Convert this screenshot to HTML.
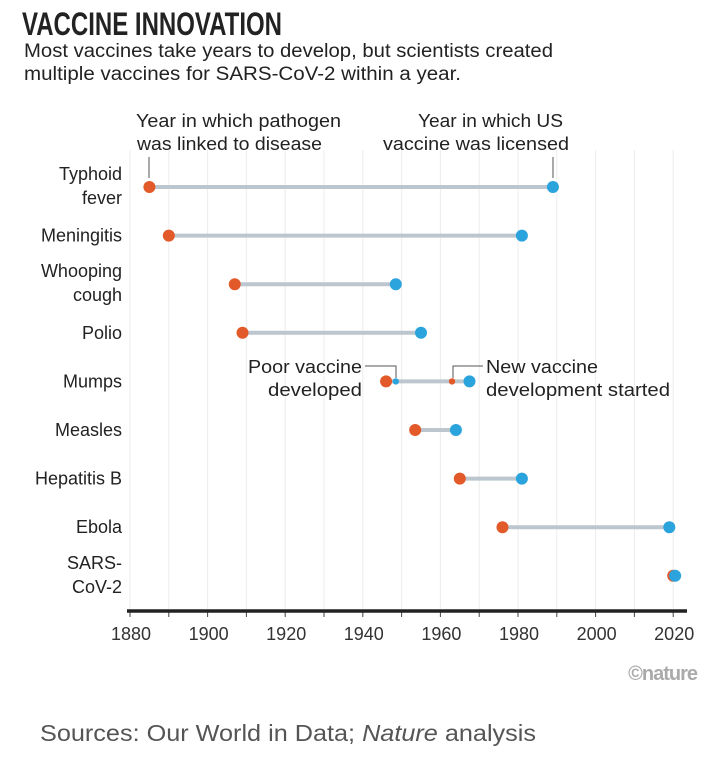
<!DOCTYPE html>
<html><head><meta charset="utf-8"><style>
body{margin:0;background:#fff;width:720px;height:757px;overflow:hidden;font-family:"Liberation Sans",sans-serif}
</style></head><body>
<svg width="720" height="757" style="position:absolute;left:0;top:0">
<text x="22" y="35" font-size="32" font-weight="bold" fill="#222" textLength="260" lengthAdjust="spacingAndGlyphs">VACCINE INNOVATION</text>
<text x="24" y="57" font-size="19" fill="#222" textLength="529" lengthAdjust="spacingAndGlyphs">Most vaccines take years to develop, but scientists created</text>
<text x="24" y="80" font-size="19" fill="#222" textLength="437" lengthAdjust="spacingAndGlyphs">multiple vaccines for SARS-CoV-2 within a year.</text>
<g id="grid"></g>
<g id="marks"></g>
<g font-size="18" fill="#222">
<text x="136" y="127" textLength="205" lengthAdjust="spacingAndGlyphs">Year in which pathogen</text>
<text x="137" y="150" textLength="185" lengthAdjust="spacingAndGlyphs">was linked to disease</text>
<text x="418" y="127" textLength="145" lengthAdjust="spacingAndGlyphs">Year in which US</text>
<text x="383" y="150" textLength="186" lengthAdjust="spacingAndGlyphs">vaccine was licensed</text>
<text x="248" y="373" textLength="114" lengthAdjust="spacingAndGlyphs">Poor vaccine</text>
<text x="268" y="396" textLength="94" lengthAdjust="spacingAndGlyphs">developed</text>
<text x="486" y="373" textLength="112" lengthAdjust="spacingAndGlyphs">New vaccine</text>
<text x="486" y="396" textLength="184" lengthAdjust="spacingAndGlyphs">development started</text>
</g>
<g stroke="#555" stroke-width="1" fill="none">
<line x1="149" y1="157" x2="149" y2="178"/><line x1="553" y1="157" x2="553" y2="178"/>
<polyline points="365,366 396,366 396,378"/><polyline points="483,366 453,366 453,378"/>
</g>
<g id="cats" font-size="18" fill="#222" text-anchor="end"></g>
<line x1="127" y1="611" x2="687" y2="611" stroke="#222" stroke-width="3.5"/>
<g id="xticks" font-size="18" fill="#333" text-anchor="middle"></g>
<text x="697" y="680" font-size="20" font-weight="bold" fill="#aaa" text-anchor="end" style="letter-spacing:-1px">©nature</text>
<text x="40" y="741" font-size="23" fill="#555" textLength="496" lengthAdjust="spacingAndGlyphs">Sources: Our World in Data; <tspan font-style="italic">Nature</tspan> analysis</text>
</svg>
<script>
const categories=[["Typhoid","fever"],["Meningitis"],["Whooping","cough"],["Polio"],["Mumps"],["Measles"],["Hepatitis B"],["Ebola"],["SARS-","CoV-2"]];
const linkedYears=[1885,1890,1907,1909,1946,1953.5,1965,1976,2020];
const licensedYears=[1989,1981,1948.5,1955,1967.5,1964,1981,2019,2020.5];
const mumpsPoorVaccine=1948.5;
const mumpsNewStart=1963;
const tickYears=[1880,1900,1920,1940,1960,1980,2000,2020];
const NS="http://www.w3.org/2000/svg";
const x=y=>130+(y-1880)*3.88;
const rowY=i=>187+i*48.6;
function mk(tag,attrs,parent){const e=document.createElementNS(NS,tag);for(const k in attrs)e.setAttribute(k,attrs[k]);document.getElementById(parent).appendChild(e);return e;}
for(let yr=1880;yr<=2020;yr+=10){
 const g=mk('line',{x1:x(yr),x2:x(yr),y1:150,y2:609,stroke:'#ececec','stroke-width':1},'grid');
 
 
 const t=mk('line',{x1:x(yr),x2:x(yr),y1:611,y2:617,stroke:'#444','stroke-width':1},'grid');
 
 
}
tickYears.forEach(yr=>{const t=mk('text',{x:x(yr)+1,y:640},'xticks');t.textContent=yr;
 
 });
categories.forEach((c,i)=>{
 const y=rowY(i);
 const t=mk('text',{x:122,y:c.length>1?y-7:y+6},'cats');
 
 
 c.forEach((s,j)=>{const ts=document.createElementNS(NS,'tspan');ts.setAttribute('x',122);if(j)ts.setAttribute('dy',24);ts.textContent=s;t.appendChild(ts);});
 const l=mk('line',{x1:x(linkedYears[i]),x2:x(licensedYears[i]),y1:y,y2:y,stroke:'#bcc6ce','stroke-width':4},'marks');
 
 
 const o=mk('circle',{cx:x(linkedYears[i]),cy:y,r:6,fill:'#e2592a'},'marks');
 
 
 const b=mk('circle',{cx:x(licensedYears[i]),cy:y,r:6,fill:'#2ba3dc'},'marks');
 
 
});
const my=rowY(4);
const s1=mk('circle',{cx:x(mumpsPoorVaccine),cy:my,r:3.2,fill:'#2ba3dc'},'marks');


const s2=mk('circle',{cx:x(mumpsNewStart),cy:my,r:3.2,fill:'#e2592a'},'marks');


</script>
</body></html>
